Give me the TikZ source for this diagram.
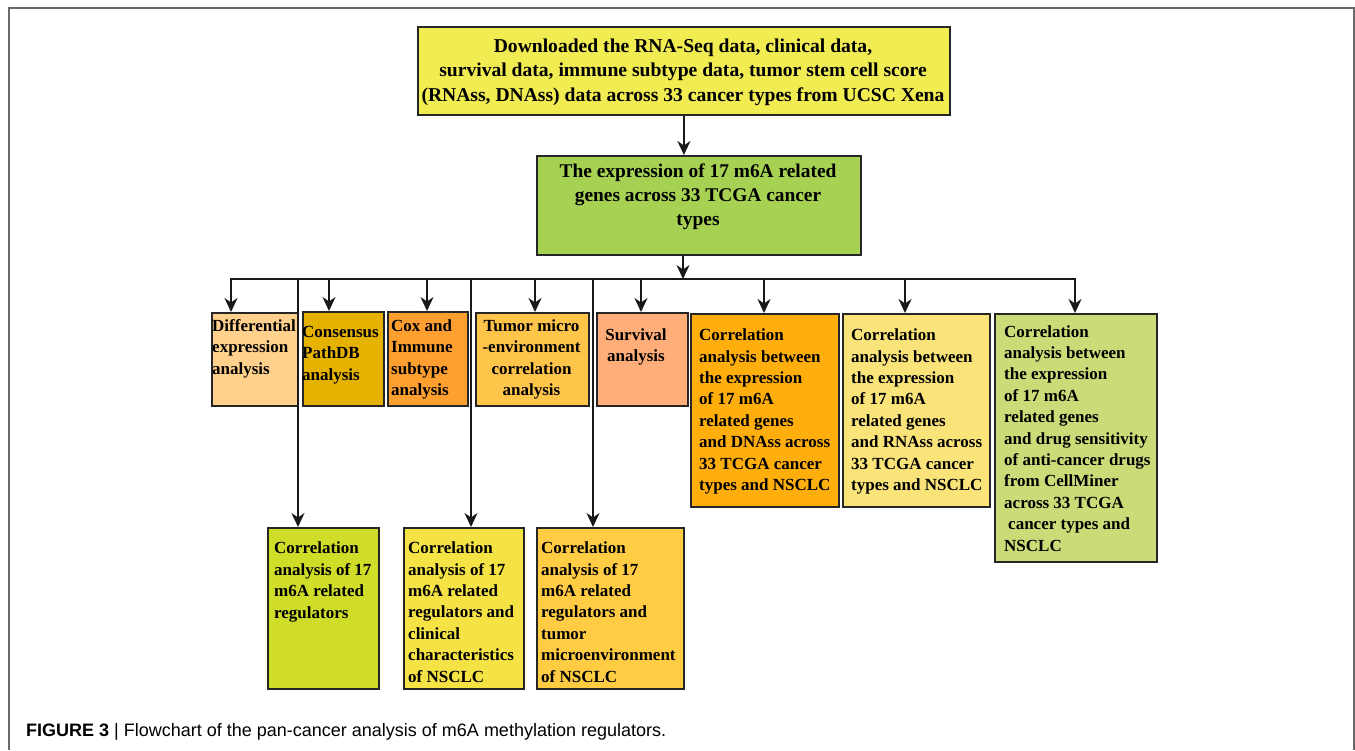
\documentclass[tikz,border=0pt]{standalone}
\usepackage{fontspec}
\setmainfont{Liberation Serif}
\setsansfont{Liberation Sans}
\usetikzlibrary{arrows.meta,calc}
\definecolor{cTop}{RGB}{241,236,82}
\definecolor{cGreen}{RGB}{166,209,82}
\definecolor{cDiff}{RGB}{255,209,140}
\definecolor{cCons}{RGB}{230,178,0}
\definecolor{cCox}{RGB}{255,159,48}
\definecolor{cTum}{RGB}{255,196,74}
\definecolor{cSurv}{RGB}{255,174,122}
\definecolor{cDNA}{RGB}{255,174,12}
\definecolor{cRNA}{RGB}{250,228,122}
\definecolor{cDrug}{RGB}{201,220,120}
\definecolor{cA}{RGB}{207,220,40}
\definecolor{cB}{RGB}{245,226,68}
\definecolor{cC}{RGB}{255,204,68}
\definecolor{cFrame}{RGB}{105,105,105}
\begin{document}
\begin{tikzpicture}[x=1pt,y=-1pt,
  box/.style={draw=black!85, line width=1.8pt, inner sep=0pt, anchor=north west},
  tb/.style={font=\bfseries\fontsize{17}{21.4}\selectfont, inner sep=0pt, align=left, anchor=base west},
  tc/.style={font=\bfseries\fontsize{17}{21.4}\selectfont, inner sep=0pt, align=center, anchor=base},
  arr/.style={-{Stealth[length=14pt,width=13pt,inset=4.5pt]}, line width=1.8pt, black!90},
  ln/.style={line width=1.8pt, black!90, line cap=rect}]
\useasboundingbox (0,0) rectangle (1355,750);
\fill[white] (0,0) rectangle (1355,750);
\draw[cFrame, line width=1.5pt] (9,750) -- (9,8) -- (1354,8) -- (1354,750);

% top and green boxes (text nodes anchored at the baseline of their last line)
\node[box, fill=cTop, minimum width=532pt, minimum height=88pt] (top) at (417,26) {};
\node[font=\bfseries\fontsize{19.6}{24.5}\selectfont, inner sep=0pt, align=center, anchor=base] (topt) at (683,101)
  {Downloaded the RNA-Seq data, clinical data,\\survival data, immune subtype data, tumor stem cell score\\(RNAss, DNAss) data across 33 cancer types from UCSC Xena};
\node[box, fill=cGreen, minimum width=324pt, minimum height=99pt] (green) at (536,155) {};
\node[font=\bfseries\fontsize{19.4}{24}\selectfont, inner sep=0pt, align=center, anchor=base] (greent) at (698,225)
  {The expression of 17 m6A related\\genes across 33 TCGA cancer\hspace{40pt}\\types};

% first row
\node[box, fill=cDiff, minimum width=86pt, minimum height=93pt] (diff) at (211,312) {};
\node[box, fill=cCons, minimum width=81pt, minimum height=94pt] (cons) at (302,311) {};
\node[box, fill=cCox, minimum width=80pt, minimum height=94pt] (cox) at (387,311) {};
\node[box, fill=cTum, minimum width=113pt, minimum height=93pt] (tum) at (475,312) {};
\node[box, fill=cSurv, minimum width=91pt, minimum height=93pt] (surv) at (596,312) {};
\node[box, fill=cDNA, minimum width=148pt, minimum height=193pt] (dna) at (690,313) {};
\node[box, fill=cRNA, minimum width=147pt, minimum height=193pt] (rna) at (842,313) {};
\node[box, fill=cDrug, minimum width=162pt, minimum height=248pt] (drug) at (994,313) {};

\node[tb] (difft) at (212,374) {Differential\\expression\\analysis};
\node[tb] (const) at (302,380) {Consensus\\PathDB\\analysis};
\node[tb] (coxt) at (391,395.5) {Cox and\\Immune\\subtype\\analysis};
\node[tc] (tumt) at (531.5,395.5) {Tumor micro\\-environment\\correlation\\analysis};
\node[tc] (survt) at (636,361.5) {Survival\\analysis};
\node[tb] (dnat) at (699,490.5) {Correlation\\analysis between\\the expression\\of 17 m6A\\related genes\\and DNAss across\\33 TCGA cancer\\types and NSCLC};
\node[tb] (rnat) at (851,490.5) {Correlation\\analysis between\\the expression\\of 17 m6A\\related genes\\and RNAss across\\33 TCGA cancer\\types and NSCLC};
\node[tb] (drugt) at (1004,551) {Correlation\\analysis between\\the expression\\of 17 m6A\\related genes\\and drug sensitivity\\of anti-cancer drugs\\from CellMiner\\across 33 TCGA\\\hspace*{4pt}cancer types and\\NSCLC};

% second row
\node[box, fill=cA, minimum width=111pt, minimum height=161pt] (ba) at (267,527) {};
\node[box, fill=cB, minimum width=120pt, minimum height=161pt] (bb) at (403,527) {};
\node[box, fill=cC, minimum width=147pt, minimum height=161pt] (bc) at (536,527) {};
\node[tb] (bat) at (274,618) {Correlation\\analysis of 17\\m6A related\\regulators};
\node[tb] (bbt) at (408,682) {Correlation\\analysis of 17\\m6A related\\regulators and\\clinical\\characteristics\\of NSCLC};
\node[tb] (bct) at (541,682) {Correlation\\analysis of 17\\m6A related\\regulators and\\tumor\\microenvironment\\of NSCLC};

% connectors
\coordinate (bus) at (683,279);
\coordinate (bL) at (231,279);
\coordinate (bR) at (1075,279);
\draw[arr] (top.south) -- (top.south |- green.north);
\draw[arr] (bus |- green.south) -- (bus);
\draw[ln] (bL) -- (bR);
\draw[arr] (bL) -- (bL |- diff.north);
\draw[arr] (bus -| 329,0) -- (cons.north -| 329,0);
\draw[arr] (bus -| 427,0) -- (cox.north -| 427,0);
\draw[arr] (bus -| 535,0) -- (tum.north -| 535,0);
\draw[arr] (bus -| 641,0) -- (surv.north -| 641,0);
\draw[arr] (bus -| 764,0) -- (dna.north -| 764,0);
\draw[arr] (bus -| 905,0) -- (rna.north -| 905,0);
\draw[arr] (bR) -- (bR |- drug.north);
\draw[arr] (bus -| 298,0) -- (ba.north -| 298,0);
\draw[arr] (bus -| 471,0) -- (bb.north -| 471,0);
\draw[arr] (bus -| 593,0) -- (bc.north -| 593,0);

% caption
\node[font=\sffamily\fontsize{18}{22}\selectfont, inner sep=0pt, anchor=base west] (cap) at (26,736)
  {\textbf{FIGURE 3} | Flowchart of the pan-cancer analysis of m6A methylation regulators.};
\end{tikzpicture}
\end{document}
